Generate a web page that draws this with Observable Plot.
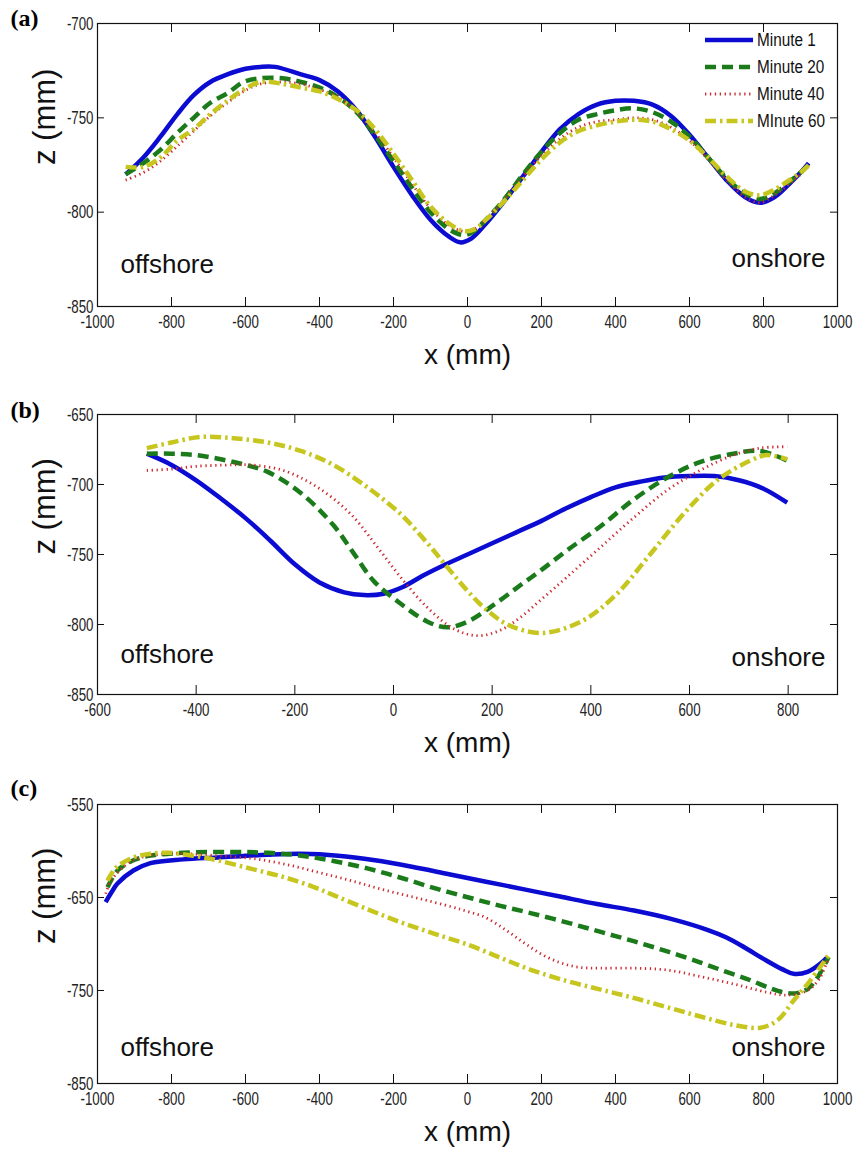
<!DOCTYPE html>
<html><head><meta charset="utf-8">
<script src="https://cdn.jsdelivr.net/npm/d3@7"></script>
<script src="https://cdn.jsdelivr.net/npm/@observablehq/plot@0.6"></script>
<style>
body{margin:0;background:#fff;}
#root{position:relative;width:853px;height:1150px;overflow:hidden;background:#fff;}
.panel{position:absolute;left:0;}
.panel svg{overflow:visible;}
</style></head><body><div id="root"></div>
<script>
// ---- series / style lists ----
const seriesNames = ["Minute 1", "Minute 20", "Minute 40", "MInute 60"];
const seriesColors = ["#0b0bd2", "#1b7b1b", "#cc2a30", "#c6c61e"];
const seriesWidths = [4.5, 4.5, 2.8, 4.5];
const seriesDash = [null, "11,6", "1.3,3.6", "11,4,2.5,4"];

// ---- tick values ----
const xTicksA = [-1000, -800, -600, -400, -200, 0, 200, 400, 600, 800, 1000];
const zTicksA = [-700, -750, -800, -850];
const xTicksB = [-600, -400, -200, 0, 200, 400, 600, 800];
const zTicksB = [-650, -700, -750, -800, -850];
const xTicksC = [-1000, -800, -600, -400, -200, 0, 200, 400, 600, 800, 1000];
const zTicksC = [-550, -650, -750, -850];

// ---- panel (a) profiles [x, z] ----
const a_min1 = [[-924,-780],[-876,-771],[-830,-760],[-784,-748],[-740,-738],[-695,-731],[-649,-727],[-600,-724],[-560,-723],[-520,-723],[-450,-727],[-400,-730],[-350,-736],[-300,-746],[-250,-760],[-200,-776],[-150,-791],[-100,-804],[-50,-813],[-20,-816],[10,-814],[50,-806],[100,-794],[150,-781],[200,-768],[250,-756],[300,-748],[350,-743],[400,-741],[450,-741],[500,-743],[550,-749],[600,-759],[650,-771],[700,-783],[750,-792],[790,-795],[830,-792],[870,-785],[900,-779],[922,-774]];
const a_min20 = [[-924,-780],[-876,-774],[-830,-767],[-784,-758],[-740,-750],[-695,-742],[-649,-737],[-605,-731],[-559,-729],[-500,-729],[-450,-731],[-400,-734],[-350,-739],[-300,-747],[-250,-759],[-200,-773],[-150,-787],[-100,-800],[-50,-809],[-15,-812],[10,-811],[50,-804],[100,-793],[150,-780],[200,-768],[250,-758],[300,-751],[350,-748],[400,-746],[450,-745],[500,-747],[550,-752],[600,-760],[650,-771],[700,-782],[750,-790],[790,-793],[830,-790],[870,-784],[900,-779],[922,-775]];
const a_min40 = [[-924,-783],[-876,-779],[-830,-773],[-784,-765],[-740,-757],[-695,-749],[-649,-742],[-605,-736],[-559,-732],[-500,-731],[-450,-732],[-400,-735],[-350,-739],[-300,-747],[-250,-758],[-200,-771],[-150,-785],[-100,-798],[-50,-807],[-15,-810],[10,-810],[50,-804],[100,-793],[150,-781],[200,-770],[250,-761],[300,-755],[350,-752],[400,-751],[450,-750],[500,-751],[550,-755],[600,-762],[650,-772],[700,-783],[750,-792],[790,-795],[830,-791],[870,-785],[900,-780],[922,-775]];
const a_min60 = [[-924,-776],[-876,-776],[-830,-771],[-784,-762],[-740,-756],[-695,-748],[-649,-741],[-605,-735],[-559,-731],[-500,-732],[-450,-734],[-400,-736],[-350,-740],[-300,-746],[-250,-756],[-200,-769],[-150,-783],[-100,-797],[-50,-806],[-10,-810],[20,-809],[50,-804],[100,-794],[150,-783],[200,-772],[250,-763],[300,-757],[350,-754],[400,-752],[450,-751],[500,-752],[550,-756],[600,-762],[650,-771],[700,-781],[750,-789],[790,-791],[830,-788],[870,-783],[900,-779],[922,-775]];

// ---- panel (b) profiles ----
const b_min1 = [[-500,-678],[-450,-686],[-400,-697],[-350,-710],[-300,-724],[-250,-740],[-200,-757],[-150,-770],[-100,-777],[-60,-779],[-20,-778],[20,-773],[60,-765],[100,-758],[150,-750],[200,-742],[250,-734],[300,-726],[350,-717],[400,-709],[450,-702],[500,-698],[550,-695],[600,-694],[650,-694],[700,-697],[750,-703],[798,-713]];
const b_min20 = [[-500,-678],[-450,-678],[-400,-679],[-350,-682],[-300,-686],[-255,-691],[-188,-706],[-122,-729],[-81,-749],[-40,-769],[14,-785],[69,-798],[109,-802],[150,-798],[203,-786],[257,-772],[300,-761],[352,-747],[419,-730],[486,-711],[555,-695],[621,-684],[689,-678],[743,-676],[798,-683]];
const b_min40 = [[-500,-690],[-450,-689],[-400,-687],[-324,-686],[-290,-686],[-223,-690],[-154,-702],[-87,-721],[-32,-745],[14,-766],[69,-788],[122,-803],[170,-808],[217,-804],[257,-795],[300,-782],[352,-766],[419,-745],[486,-724],[555,-704],[621,-690],[689,-679],[743,-674],[798,-673]];
const b_min60 = [[-500,-674],[-450,-670],[-391,-666],[-324,-667],[-255,-670],[-188,-676],[-122,-686],[-53,-702],[14,-721],[69,-742],[109,-759],[150,-776],[190,-790],[237,-801],[304,-806],[385,-797],[453,-778],[520,-750],[588,-721],[656,-697],[723,-683],[757,-679],[798,-682]];

// ---- panel (c) profiles ----
const c_min1 = [[-978,-655],[-960,-643],[-946,-635],[-903,-621],[-857,-613],[-768,-609],[-676,-607],[-541,-604],[-449,-603],[-350,-605],[-250,-610],[-150,-617],[-50,-625],[50,-633],[150,-641],[250,-649],[350,-657],[450,-664],[550,-673],[650,-685],[700,-693],[750,-704],[800,-716],[850,-727],[881,-732],[919,-730],[954,-721],[973,-714]];
const c_min20 = [[-973,-639],[-946,-621],[-903,-610],[-857,-605],[-768,-602],[-632,-601],[-538,-602],[-449,-605],[-359,-611],[-268,-619],[-178,-629],[-89,-640],[3,-650],[89,-659],[173,-667],[270,-677],[360,-687],[449,-697],[540,-708],[630,-720],[700,-730],[765,-739],[820,-748],[854,-752],[890,-753],[920,-748],[946,-736],[976,-714]];
const c_min40 = [[-978,-646],[-960,-630],[-903,-610],[-811,-603],[-676,-605],[-584,-608],[-495,-614],[-403,-623],[-314,-632],[-224,-642],[-132,-651],[-43,-660],[0,-665],[46,-671],[100,-684],[150,-698],[200,-711],[250,-720],[300,-725],[359,-726],[449,-726],[540,-728],[630,-735],[719,-743],[811,-752],[865,-755],[919,-750],[950,-738],[973,-718]];
const c_min60 = [[-973,-632],[-950,-618],[-903,-607],[-857,-603],[-811,-602],[-741,-605],[-676,-610],[-586,-619],[-497,-628],[-420,-638],[-359,-648],[-268,-663],[-178,-677],[-89,-689],[3,-701],[90,-715],[173,-728],[270,-740],[360,-749],[449,-758],[540,-768],[630,-778],[719,-787],[792,-790],[838,-782],[881,-761],[927,-739],[976,-712]];

const SANS = "'Liberation Sans', Arial, Helvetica, sans-serif";

function condense(svg, selector, factor) {
  svg.querySelectorAll(selector).forEach(t => {
    const w = t.getComputedTextLength();
    if (w > 0) {
      t.setAttribute("textLength", (w * factor).toFixed(1));
      t.setAttribute("lengthAdjust", "spacingAndGlyphs");
    }
  });
}

function drawPanel(cfg) {
  const W = 853, ml = 97, mr = 16;
  const frameH = cfg.height - cfg.mt - cfg.mb;
  const frameW = W - ml - mr;
  const lines = cfg.series.map((pts, i) => Plot.line(pts, {
    x: d => d[0], y: d => d[1],
    stroke: seriesColors[i], strokeWidth: seriesWidths[i],
    ...(seriesDash[i] ? {strokeDasharray: seriesDash[i]} : {}),
    strokeLinecap: "butt", curve: "catmull-rom"
  }));
  const svg = Plot.plot({
    width: W, height: cfg.height,
    marginLeft: ml, marginRight: mr, marginTop: cfg.mt, marginBottom: cfg.mb,
    x: {domain: cfg.xDomain},
    y: {domain: cfg.yDomain},
    style: {fontFamily: SANS, background: "white", color: "#111", overflow: "visible"},
    marks: [
      ...lines,
      Plot.frame({stroke: "#111", strokeWidth: 1.2}),
      Plot.tickX(cfg.xTicks, {x: d => d, insetTop: frameH - 9, stroke: "#111"}),
      Plot.tickX(cfg.xTicks, {x: d => d, insetBottom: frameH - 9, stroke: "#111"}),
      Plot.tickY(cfg.yTicks, {y: d => d, insetRight: frameW - 7, stroke: "#111"}),
      Plot.tickY(cfg.yTicks, {y: d => d, insetLeft: frameW - 7, stroke: "#111"}),
      Plot.axisX(cfg.xTicks, {tickSize: 0, tickPadding: 8, label: null, tickFormat: d => String(d), fontSize: 19, fill: "#222"}),
      Plot.axisY(cfg.yTicks, {tickSize: 0, tickPadding: 4, label: null, tickFormat: d => String(d), fontSize: 19, fill: "#222"}),
      Plot.text(["x (mm)"], {frameAnchor: "bottom", dy: 49, lineAnchor: "middle", fontSize: 28, fill: "#111"}),
      Plot.text(["z (mm)"], {frameAnchor: "left", dx: -52, rotate: -90, lineAnchor: "middle", fontSize: 31, fill: "#111"}),
      Plot.text([cfg.label], {frameAnchor: "top-left", dx: -87, dy: cfg.labelDy, textAnchor: "start", lineAnchor: "middle", fontFamily: "'Liberation Serif', 'Times New Roman', serif", fontWeight: "bold", fontSize: 24, fill: "#000"}),
      Plot.text(["offshore"], {frameAnchor: "bottom-left", dx: 23, dy: cfg.offDy, textAnchor: "start", lineAnchor: "middle", fontSize: 26, fill: "#111"}),
      Plot.text(["onshore"], {frameAnchor: "bottom-right", dx: -12, dy: cfg.onDy, textAnchor: "end", lineAnchor: "middle", fontSize: 26, fill: "#111"})
    ]
  });
  const div = document.createElement("div");
  div.className = "panel";
  div.style.top = cfg.top + "px";
  div.appendChild(svg);
  document.getElementById("root").appendChild(div);
  condense(svg, '[aria-label="x-axis tick label"] text, [aria-label="y-axis tick label"] text', 0.7);
  return svg;
}

const svgA = drawPanel({
  series: [a_min1, a_min20, a_min40, a_min60],
  xDomain: [-1000, 1000], yDomain: [-850, -700],
  xTicks: xTicksA, yTicks: zTicksA,
  top: 0, height: 390, mt: 23, mb: 84,
  label: "(a)", labelDy: -5, offDy: -42, onDy: -48
});
drawPanel({
  series: [b_min1, b_min20, b_min40, b_min60],
  xDomain: [-600, 900], yDomain: [-850, -650],
  xTicks: xTicksB, yTicks: zTicksB,
  top: 390, height: 388, mt: 24, mb: 84,
  label: "(b)", labelDy: -4, offDy: -40, onDy: -37
});
drawPanel({
  series: [c_min1, c_min20, c_min40, c_min60],
  xDomain: [-1000, 1000], yDomain: [-850, -550],
  xTicks: xTicksC, yTicks: zTicksC,
  top: 778, height: 372, mt: 26, mb: 67,
  label: "(c)", labelDy: -16, offDy: -36, onDy: -36
});

// ---- legend inside panel (a) ----
const leg = d3.select(svgA).append("g").attr("aria-label", "legend");
seriesNames.forEach((name, i) => {
  const y = 40 + i * 27;
  const ln = leg.append("line").attr("x1", 705).attr("x2", 753).attr("y1", y).attr("y2", y)
    .attr("stroke", seriesColors[i]).attr("stroke-width", seriesWidths[i]);
  if (seriesDash[i]) ln.attr("stroke-dasharray", seriesDash[i]);
  leg.append("text").attr("x", 757).attr("y", y).attr("dy", "0.36em")
    .attr("text-anchor", "start")
    .attr("font-size", 18).attr("font-family", SANS).attr("fill", "#111").text(name);
});
condense(svgA, '[aria-label="legend"] text', 0.85);
</script></body></html>
